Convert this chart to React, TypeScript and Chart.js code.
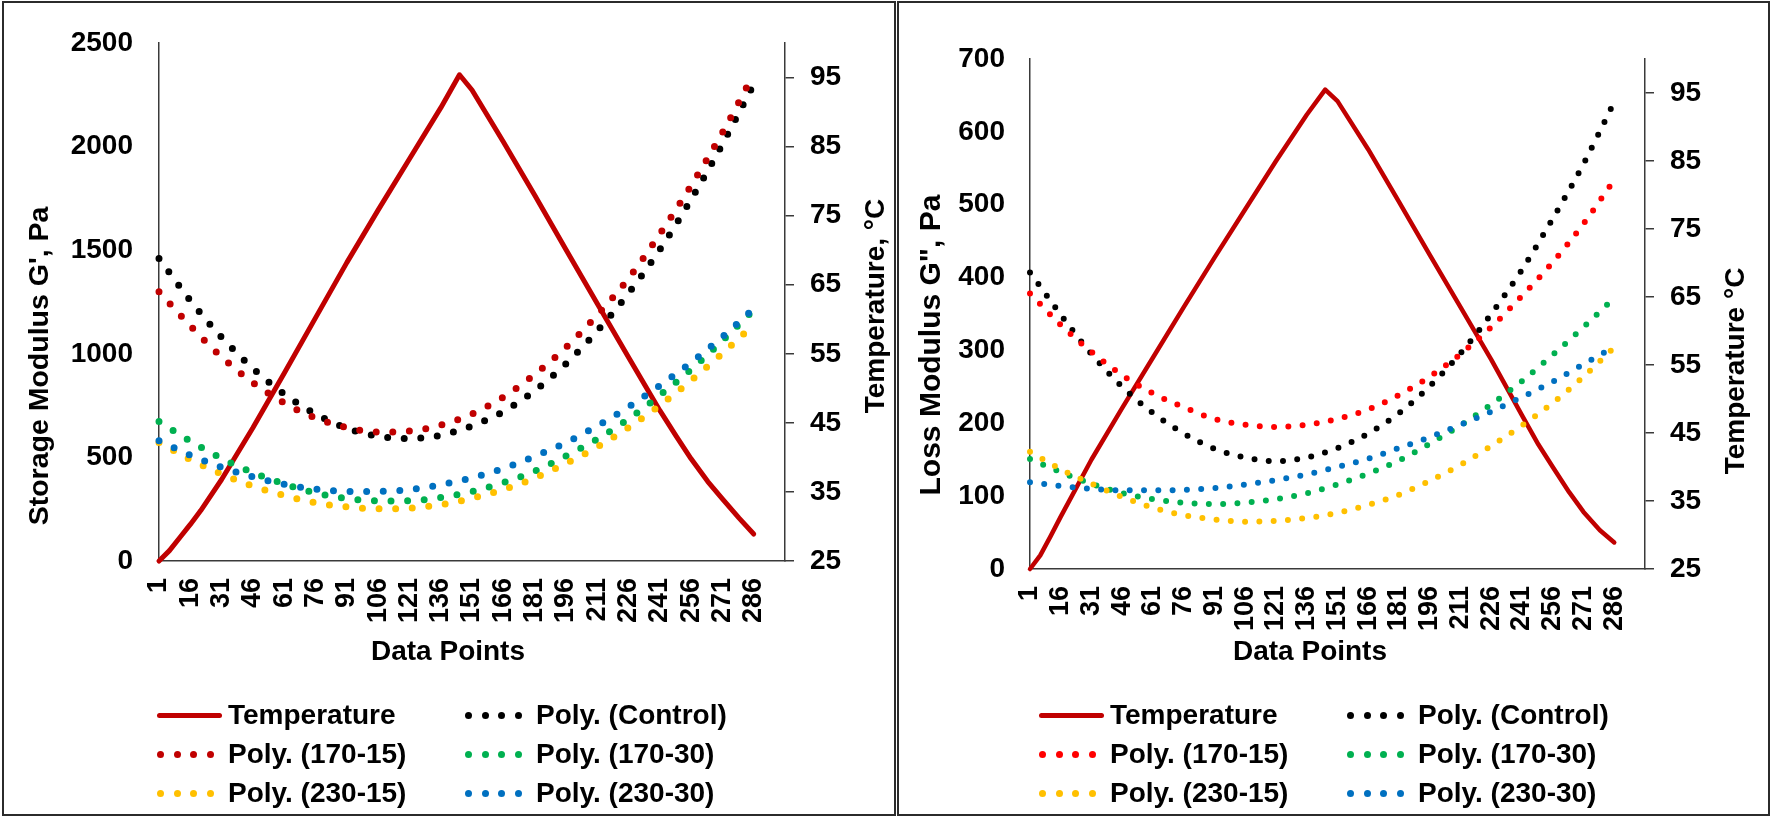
import React, { useEffect, useRef } from "react";
import { Chart, registerables } from "chart.js";

Chart.register(...registerables);

// x positions of the read points (data point number)
const pointIndex = [1, 16, 31, 46, 61, 76, 91, 106, 121, 136, 151, 166, 181, 196, 211, 226, 241, 256, 271, 286];
const xTickValues = [1, 16, 31, 46, 61, 76, 91, 106, 121, 136, 151, 166, 181, 196, 211, 226, 241, 256, 271, 286];
const tempTickValues = [25, 35, 45, 55, 65, 75, 85, 95];

// temperature profile, same x for both panels
const tempIndex = [1, 6, 11, 16, 21, 31, 46, 61, 76, 91, 106, 121, 136, 145, 151, 166, 181, 196, 211, 226, 241, 249, 256, 264, 271, 279, 286];
const tempLeft = [25.0, 26.5, 28.4, 30.3, 32.3, 36.8, 44.3, 52.2, 60.2, 68.2, 75.8, 83.2, 90.6, 95.4, 93.2, 85.7, 78.0, 70.1, 62.3, 54.5, 46.8, 43.0, 39.8, 36.5, 34.0, 31.2, 28.9];
const tempRight = [25.0, 27.0, 29.8, 32.7, 35.5, 41.1, 48.7, 56.1, 63.5, 70.8, 77.9, 85.0, 91.8, 95.5, 93.8, 86.7, 79.0, 71.2, 63.5, 55.8, 47.6, 43.3, 40.0, 36.3, 33.4, 30.7, 28.9];

// storage modulus G' trend lines (Pa)
const storageControl = [1460, 1257, 1080, 930, 806, 710, 641, 602, 591, 607, 652, 721, 822, 952, 1110, 1292, 1503, 1745, 2012, 2300];
const storage170_15 = [1300, 1135, 985, 861, 763, 690, 644, 622, 627, 656, 710, 791, 900, 1031, 1187, 1364, 1578, 1812, 2067, 2350];
const storage170_30 = [673, 579, 495, 427, 372, 329, 302, 290, 291, 306, 335, 378, 433, 507, 588, 685, 800, 924, 1063, 1212];
const storage230_15 = [572, 490, 420, 361, 316, 281, 261, 252, 255, 272, 303, 345, 400, 471, 550, 644, 751, 871, 1002, 1141];
const storage230_30 = [580, 511, 453, 406, 370, 347, 336, 336, 345, 368, 402, 446, 505, 571, 652, 744, 847, 958, 1082, 1218];

// loss modulus G'' trend lines (Pa)
const lossControl = [407, 349, 295, 250, 214, 186, 165, 153, 148, 153, 166, 186, 214, 251, 296, 350, 411, 481, 556, 641];
const loss170_15 = [378, 335, 298, 266, 241, 222, 206, 198, 195, 198, 206, 219, 239, 264, 295, 332, 375, 421, 474, 534];
const loss170_30 = [151, 133, 117, 104, 96, 91, 89, 91, 96, 104, 116, 131, 149, 172, 197, 226, 258, 294, 332, 372];
const loss230_15 = [161, 137, 117, 99, 84, 74, 68, 65, 66, 70, 77, 88, 102, 121, 143, 169, 197, 228, 264, 304];
const loss230_30 = [119, 114, 110, 108, 108, 108.5, 111, 116, 122, 130, 140, 151.5, 166, 181, 198, 216, 236, 257, 281, 305];

const legendLabels = ["Temperature", "Poly. (Control)", "Poly. (170-15)", "Poly. (170-30)", "Poly. (230-15)", "Poly. (230-30)"];

const FONT = '"Liberation Sans", Arial, sans-serif';
const AXIS = "#3a3a3a";
const TEMP_RED = "#C00000";

type Series = { label: string; values: number[]; color: string };
type Title = { text: string; x: number; y: number; rotate?: boolean; size?: number };

const toPoints = (xs: number[], ys: number[]) => xs.map((x, i) => ({ x, y: ys[i] }));

const titlePlugin = (titles: Title[]) => ({
  id: "axisTitles",
  afterDraw(chart: Chart) {
    const ctx = chart.ctx;
    ctx.save();
    ctx.fillStyle = "#000";
    ctx.textAlign = "center";
    ctx.textBaseline = "middle";
    titles.forEach((t) => {
      ctx.save();
      ctx.font = `bold ${t.size || 28}px ${FONT}`;
      ctx.translate(t.x, t.y);
      if (t.rotate) ctx.rotate(-Math.PI / 2);
      ctx.fillText(t.text, 0, 0);
      ctx.restore();
    });
    ctx.restore();
  },
});

interface PanelProps {
  left: number;
  width: number;
  height: number;
  area: { left: number; right: number; top: number; bottom: number };
  yMax: number;
  yStep: number;
  yPad: number;
  trends: Series[];
  temp: number[];
  dot: number;
  gap: number;
  tempWidth: number;
  titles: Title[];
}

const ChartPanel: React.FC<PanelProps> = (p) => {
  const ref = useRef<HTMLCanvasElement>(null);

  useEffect(() => {
    if (!ref.current) return;
    const ctx = ref.current.getContext("2d");
    if (!ctx) return;
    const tickFont = { family: FONT, size: 28, weight: "bold" as const };

    const chart = new Chart(ctx, {
      type: "line",
      data: {
        datasets: [
          // later series sit on top, like the original
          ...p.trends
            .slice()
            .reverse()
            .map((s) => ({
              label: s.label,
              data: toPoints(pointIndex, s.values),
              borderColor: s.color,
              backgroundColor: s.color,
              borderWidth: p.dot,
              borderDash: [0, p.gap],
              borderCapStyle: "round" as const,
              pointRadius: 0,
              cubicInterpolationMode: "monotone" as const,
              fill: false,
              clip: false as const,
              yAxisID: "y",
            })),
          {
            label: "Temperature",
            data: toPoints(tempIndex, p.temp),
            borderColor: TEMP_RED,
            backgroundColor: TEMP_RED,
            borderWidth: p.tempWidth,
            borderJoinStyle: "round" as const,
            borderCapStyle: "round" as const,
            tension: 0,
            pointRadius: 0,
            fill: false,
            clip: false as const,
            yAxisID: "y2",
          },
        ],
      },
      options: {
        responsive: false,
        animation: false,
        layout: { padding: { top: p.area.top, left: 0, right: 0, bottom: 0 } },
        plugins: { legend: { display: false }, tooltip: { enabled: false } },
        scales: {
          x: {
            type: "linear",
            min: 1,
            max: 301,
            afterBuildTicks: (s: any) => {
              s.ticks = xTickValues.map((v) => ({ value: v }));
            },
            afterFit: (s: any) => {
              s.height = p.height - p.area.bottom;
            },
            grid: { display: false, drawTicks: false },
            border: { display: true, color: AXIS, width: 1.5 },
            ticks: {
              autoSkip: false,
              minRotation: 90,
              maxRotation: 90,
              padding: 17,
              color: "#000",
              font: { family: FONT, size: 27, weight: "bold" },
              callback: (v: any) => String(v),
            },
          },
          y: {
            type: "linear",
            position: "left",
            min: 0,
            max: p.yMax,
            afterFit: (s: any) => {
              s.width = p.area.left;
            },
            grid: { display: false, drawTicks: false },
            border: { display: true, color: AXIS, width: 1.5 },
            ticks: {
              stepSize: p.yStep,
              padding: p.yPad,
              color: "#000",
              font: tickFont,
              callback: (v: any) => String(v),
            },
          },
          y2: {
            type: "linear",
            position: "right",
            min: 25,
            max: 100,
            afterBuildTicks: (s: any) => {
              s.ticks = tempTickValues.map((v) => ({ value: v }));
            },
            afterFit: (s: any) => {
              s.width = p.width - p.area.right;
            },
            grid: {
              display: true,
              drawOnChartArea: false,
              drawTicks: true,
              tickLength: 9,
              color: AXIS,
              lineWidth: 1.5,
            },
            border: { display: true, color: AXIS, width: 1.5 },
            ticks: {
              padding: 16,
              color: "#000",
              font: tickFont,
              callback: (v: any) => String(v),
            },
          },
        },
      },
      plugins: [titlePlugin(p.titles)],
    });
    return () => {
      chart.destroy();
    };
  }, [p]);

  return (
    <canvas
      ref={ref}
      width={p.width}
      height={p.height}
      style={{ position: "absolute", left: p.left, top: 0 }}
    />
  );
};

const Legend: React.FC<{ colors: string[]; cols: number[]; rows: number[]; dot: number }> = ({ colors, cols, rows, dot }) => (
  <>
    {legendLabels.map((label, i) => {
      const x = cols[i % 2];
      const y = rows[Math.floor(i / 2)];
      return (
        <React.Fragment key={label}>
          {i === 0 ? (
            <div
              style={{
                position: "absolute",
                left: x,
                top: y - 2.5,
                width: 65,
                height: 5,
                borderRadius: 2.5,
                background: colors[i],
              }}
            />
          ) : (
            [0, 1, 2, 3].map((k) => (
              <div
                key={k}
                style={{
                  position: "absolute",
                  left: x + k * 16.7,
                  top: y - dot / 2,
                  width: dot,
                  height: dot,
                  borderRadius: "50%",
                  background: colors[i],
                }}
              />
            ))
          )}
          <div
            style={{
              position: "absolute",
              left: x + 71,
              top: y - 16,
              font: `bold 28px ${FONT}`,
              lineHeight: "32px",
              color: "#000",
              whiteSpace: "nowrap",
            }}
          >
            {label}
          </div>
        </React.Fragment>
      );
    })}
  </>
);

const leftPanel: PanelProps = {
  left: 0,
  width: 896,
  height: 700,
  area: { left: 159, right: 785, top: 43, bottom: 561 },
  yMax: 2500,
  yStep: 500,
  yPad: 26,
  trends: [
    { label: "Poly. (Control)", values: storageControl, color: "#000000" },
    { label: "Poly. (170-15)", values: storage170_15, color: "#C00000" },
    { label: "Poly. (170-30)", values: storage170_30, color: "#00B050" },
    { label: "Poly. (230-15)", values: storage230_15, color: "#FFC000" },
    { label: "Poly. (230-30)", values: storage230_30, color: "#0070C0" },
  ],
  temp: tempLeft,
  dot: 7,
  gap: 16.6,
  tempWidth: 5,
  titles: [
    { text: "Storage Modulus G', Pa", x: 40, y: 366, rotate: true, size: 28.5 },
    { text: "Temperature, °C", x: 876, y: 306, rotate: true },
    { text: "Data Points", x: 448, y: 652 },
  ],
};

const rightPanel: PanelProps = {
  left: 897,
  width: 875,
  height: 700,
  area: { left: 133, right: 748, top: 59, bottom: 569 },
  yMax: 700,
  yStep: 100,
  yPad: 25,
  trends: [
    { label: "Poly. (Control)", values: lossControl, color: "#000000" },
    { label: "Poly. (170-15)", values: loss170_15, color: "#FF0000" },
    { label: "Poly. (170-30)", values: loss170_30, color: "#00B050" },
    { label: "Poly. (230-15)", values: loss230_15, color: "#FFC000" },
    { label: "Poly. (230-30)", values: loss230_30, color: "#0070C0" },
  ],
  temp: tempRight,
  dot: 6,
  gap: 14.3,
  tempWidth: 4.5,
  titles: [
    { text: 'Loss Modulus G", Pa', x: 35, y: 345, rotate: true, size: 30 },
    { text: "Temperature °C", x: 839, y: 371, rotate: true },
    { text: "Data Points", x: 413, y: 652 },
  ],
};

const boxStyle = (left: number, width: number): React.CSSProperties => ({
  position: "absolute",
  left,
  top: 1,
  width,
  height: 815,
  border: "2px solid #2b2b2b",
  boxSizing: "border-box",
});

export default function App() {
  return (
    <div style={{ position: "absolute", left: 0, top: 0, width: 1772, height: 817, background: "#fff", overflow: "hidden" }}>
      <div style={boxStyle(2, 894)} />
      <div style={boxStyle(897, 873)} />
      <ChartPanel {...leftPanel} />
      <ChartPanel {...rightPanel} />
      <Legend
        colors={[TEMP_RED, "#000000", "#C00000", "#00B050", "#FFC000", "#0070C0"]}
        cols={[157, 465]}
        rows={[715, 754, 793]}
        dot={7}
      />
      <Legend
        colors={[TEMP_RED, "#000000", "#FF0000", "#00B050", "#FFC000", "#0070C0"]}
        cols={[1039, 1347]}
        rows={[715, 754, 793]}
        dot={7}
      />
    </div>
  );
}
